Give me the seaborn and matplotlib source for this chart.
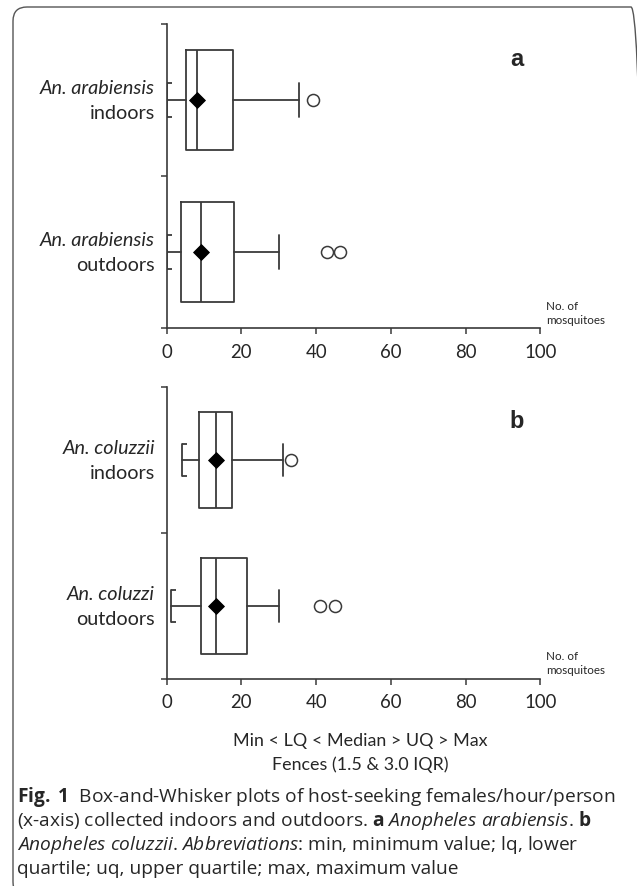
import numpy as np
import pandas as pd
import matplotlib
matplotlib.use("Agg")
import matplotlib.pyplot as plt
import seaborn as sns
from matplotlib.patches import FancyBboxPatch
from matplotlib.transforms import IdentityTransform, blended_transform_factory


# ── Values ───────────────────────────────────────────────────────────────────

sites = ["indoors", "outdoors"]
species_a = ["An. arabiensis", "An. arabiensis"]
species_b = ["An. coluzzii", "An. coluzzi"]

a_min = [0.0, 0.0]
a_q1 = [5.3, 3.7]
a_med = [8.1, 9.3]
a_q3 = [17.8, 18.1]
a_max = [35.4, 30.1]
a_mean = [8.1, 9.3]
a_out = [[39.1], [43.0, 46.3]]

b_min = [4.1, 1.2]
b_q1 = [8.7, 9.1]
b_med = [13.1, 13.2]
b_q3 = [17.6, 21.5]
b_max = [31.2, 30.0]
b_mean = [13.1, 13.2]
b_out = [[33.2], [41.1, 45.1]]

x_ticks = [0, 20, 40, 60, 80, 100]
panel_tags = ["a", "b"]

caption_lines = [
    r"$\mathbf{Fig.}$ $\mathbf{1}$  Box-and-Whisker plots of host-seeking females/hour/person",
    r"(x-axis) collected indoors and outdoors. $\mathbf{a}$ $\mathit{Anopheles\ arabiensis}$. $\mathbf{b}$",
    r"$\mathit{Anopheles\ coluzzii}$. $\mathit{Abbreviations}$: min, minimum value; lq, lower",
    "quartile; uq, upper quartile; max, maximum value",
]


W, H = 637, 887
LINE = "#3a3a3a"
CHART_FONT = ["Lato", "DejaVu Sans"]
CAP_FONT = ["Open Sans", "DejaVu Sans"]

sns.set_style("ticks")
plt.rcParams["font.family"] = CHART_FONT
plt.rcParams["mathtext.fontset"] = "custom"
plt.rcParams["mathtext.rm"] = "Open Sans"
plt.rcParams["mathtext.it"] = "Open Sans:italic"
plt.rcParams["mathtext.bf"] = "Open Sans:bold"

fig = plt.figure(figsize=(W / 100, H / 100), dpi=100)


def fx(px):
    return px / W


def fy(py):
    return 1 - py / H


def draw_panel(ax, species, mins, q1, med, q3, maxs, means, outs, tag):
    stats = []
    for i in range(len(sites)):
        stats.append({"whislo": mins[i], "q1": q1[i], "med": med[i],
                      "q3": q3[i], "whishi": maxs[i], "fliers": []})
    pos = np.arange(len(sites))
    style = dict(color=LINE, linewidth=1.3)
    ax.bxp(stats, positions=pos, orientation="horizontal", widths=0.66,
           capwidths=0.22, showfliers=False, boxprops=style,
           whiskerprops=style, capprops=style, medianprops=style)

    # serifs on the lower cap, "[" shaped as in the original
    for i, lo in enumerate(mins):
        for dy in (-0.11, 0.11):
            ax.plot([lo, lo + 1.3], [pos[i] + dy, pos[i] + dy], color=LINE,
                    lw=1.3, solid_capstyle="butt", clip_on=False)

    flier_df = pd.DataFrame(
        [(v, pos[i]) for i, vals in enumerate(outs) for v in vals],
        columns=["value", "pos"])
    sns.scatterplot(data=flier_df, x="value", y="pos", ax=ax, marker="o",
                    s=75, facecolor="white", edgecolor=LINE, linewidth=1.1,
                    zorder=4, clip_on=False)
    mean_df = pd.DataFrame({"value": means, "pos": pos})
    sns.scatterplot(data=mean_df, x="value", y="pos", ax=ax, marker="D",
                    s=65, color="black", edgecolor="black", zorder=5,
                    clip_on=False)

    ax.set_xlim(0, 100)
    ax.set_ylim(1.5, -0.5)
    ax.set_xticks(x_ticks)
    ax.set_xticklabels([str(t) for t in x_ticks], fontsize=13.4)
    ax.set_yticks([-0.5, 0.5, 1.5])
    ax.set_yticklabels([])
    ax.tick_params(axis="both", direction="out", length=4, width=1.1,
                   color=LINE, pad=6.5)
    ax.set_xlabel("")
    ax.set_ylabel("")
    for side in ("top", "right"):
        ax.spines[side].set_visible(False)
    for side in ("left", "bottom"):
        ax.spines[side].set_color(LINE)
        ax.spines[side].set_linewidth(1.2)

    bbox = ax.get_position()
    unit_px = bbox.height * H / 2.0
    dy = 12.5 / unit_px
    tr = blended_transform_factory(ax.transAxes, ax.transData)
    xoff = -11.7 / (bbox.width * W)
    for i in range(len(sites)):
        ax.text(xoff, pos[i] - dy, species[i], transform=tr, ha="right",
                va="center", fontsize=14.3, fontstyle="italic")
        ax.text(xoff, pos[i] + dy, sites[i], transform=tr, ha="right",
                va="center", fontsize=14.3)

    ax.text(1.0155, 0.012, "No. of\nmosquitoes", transform=ax.transAxes,
            ha="left", va="bottom", fontsize=8.4, linespacing=1.3)
    ax.text(0.938, 0.885, tag, transform=ax.transAxes, ha="center",
            va="center", fontsize=17, fontweight="bold",
            family=["Liberation Sans", "DejaVu Sans"])


x0, x1 = 166.7, 540.2
ax_a = fig.add_axes([fx(x0), fy(329.3), (x1 - x0) / W, (329.3 - 25) / H])
ax_b = fig.add_axes([fx(x0), fy(679.5), (x1 - x0) / W, (679.5 - 388) / H])

draw_panel(ax_a, species_a, a_min, a_q1, a_med, a_q3, a_max, a_mean, a_out,
           panel_tags[0])
draw_panel(ax_b, species_b, b_min, b_q1, b_med, b_q3, b_max, b_mean, b_out,
           panel_tags[1])

fig.text(fx(360), fy(741), "Min < LQ < Median > UQ > Max", ha="center",
         va="center", fontsize=12.9)
fig.text(fx(360), fy(765), "Fences (1.5 & 3.0 IQR)", ha="center",
         va="center", fontsize=12.9)

# ── Caption ──────────────────────────────────────────────────────────────────
for k, line in enumerate(caption_lines):
    fig.text(fx(17), fy(797 + 24 * k), line, ha="left", va="center",
             fontsize=13.8, family=CAP_FONT)

border = FancyBboxPatch((13, -10), 632, 889, boxstyle="round,pad=0,rounding_size=14",
                        transform=IdentityTransform(), fill=False,
                        edgecolor="#555555", linewidth=1.0)
fig.patches.append(border)

fig.savefig("out.png", dpi=100)
